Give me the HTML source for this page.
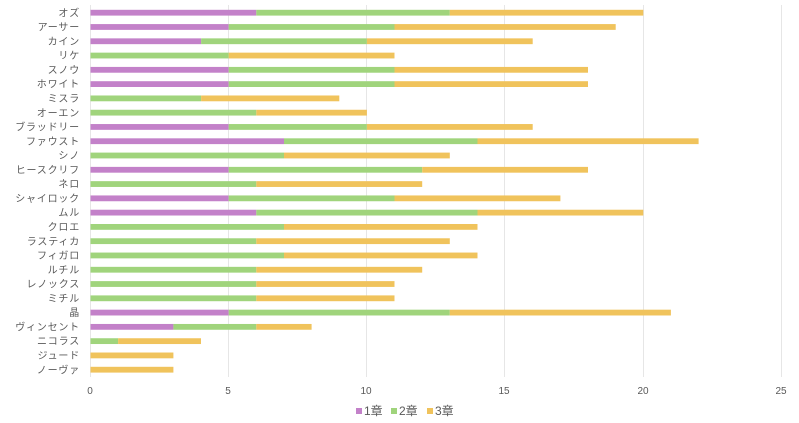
<!DOCTYPE html>
<html><head><meta charset="utf-8"><style>
html,body{margin:0;padding:0;background:#fff;}
svg{display:block;font-family:"Liberation Sans","Noto Sans CJK JP",sans-serif;}
.p{fill:#c381c9}.g{fill:#a0d47c}.y{fill:#f0c35c}
.l{font-size:10px;fill:#595959;text-anchor:end;letter-spacing:0.8px}
</style></head><body>
<svg width="799" height="423" xmlns="http://www.w3.org/2000/svg">
<g stroke="#e6e6e6" stroke-width="1">
<line x1="90.5" y1="5" x2="90.5" y2="377"/>
<line x1="228.5" y1="5" x2="228.5" y2="377"/>
<line x1="366.5" y1="5" x2="366.5" y2="377"/>
<line x1="504.5" y1="5" x2="504.5" y2="377"/>
<line x1="643.5" y1="5" x2="643.5" y2="377"/>
<line x1="781.5" y1="5" x2="781.5" y2="377"/>
</g>
<g font-size="10" fill="#595959" text-anchor="middle">
<text x="90" y="394">0</text><text x="228" y="394">5</text><text x="366" y="394">10</text>
<text x="504" y="394">15</text><text x="643" y="394">20</text><text x="781" y="394">25</text>
</g>
<g transform="translate(0,9.8)"><rect class="p" x="90.5" y="0" width="165.8" height="5.8"/><rect class="g" x="256.3" y="0" width="193.5" height="5.8"/><rect class="y" x="449.8" y="0" width="193.5" height="5.8"/><text class="l" x="80" y="6.5">オズ</text></g>
<g transform="translate(0,24.08)"><rect class="p" x="90.5" y="0" width="138.2" height="5.8"/><rect class="g" x="228.7" y="0" width="165.8" height="5.8"/><rect class="y" x="394.5" y="0" width="221.2" height="5.8"/><text class="l" x="80" y="6.5">アーサー</text></g>
<g transform="translate(0,38.36)"><rect class="p" x="90.5" y="0" width="110.6" height="5.8"/><rect class="g" x="201.1" y="0" width="165.8" height="5.8"/><rect class="y" x="366.9" y="0" width="165.8" height="5.8"/><text class="l" x="80" y="6.5">カイン</text></g>
<g transform="translate(0,52.64)"><rect class="g" x="90.5" y="0" width="138.2" height="5.8"/><rect class="y" x="228.7" y="0" width="165.8" height="5.8"/><text class="l" x="80" y="6.5">リケ</text></g>
<g transform="translate(0,66.92)"><rect class="p" x="90.5" y="0" width="138.2" height="5.8"/><rect class="g" x="228.7" y="0" width="165.8" height="5.8"/><rect class="y" x="394.5" y="0" width="193.5" height="5.8"/><text class="l" x="80" y="6.5">スノウ</text></g>
<g transform="translate(0,81.2)"><rect class="p" x="90.5" y="0" width="138.2" height="5.8"/><rect class="g" x="228.7" y="0" width="165.8" height="5.8"/><rect class="y" x="394.5" y="0" width="193.5" height="5.8"/><text class="l" x="80" y="6.5">ホワイト</text></g>
<g transform="translate(0,95.48)"><rect class="g" x="90.5" y="0" width="110.6" height="5.8"/><rect class="y" x="201.1" y="0" width="138.2" height="5.8"/><text class="l" x="80" y="6.5">ミスラ</text></g>
<g transform="translate(0,109.76)"><rect class="g" x="90.5" y="0" width="165.8" height="5.8"/><rect class="y" x="256.3" y="0" width="110.6" height="5.8"/><text class="l" x="80" y="6.5">オーエン</text></g>
<g transform="translate(0,124.04)"><rect class="p" x="90.5" y="0" width="138.2" height="5.8"/><rect class="g" x="228.7" y="0" width="138.2" height="5.8"/><rect class="y" x="366.9" y="0" width="165.8" height="5.8"/><text class="l" x="80" y="6.5">ブラッドリー</text></g>
<g transform="translate(0,138.32)"><rect class="p" x="90.5" y="0" width="193.5" height="5.8"/><rect class="g" x="284" y="0" width="193.5" height="5.8"/><rect class="y" x="477.5" y="0" width="221.1" height="5.8"/><text class="l" x="80" y="6.5">ファウスト</text></g>
<g transform="translate(0,152.6)"><rect class="g" x="90.5" y="0" width="193.5" height="5.8"/><rect class="y" x="284" y="0" width="165.8" height="5.8"/><text class="l" x="80" y="6.5">シノ</text></g>
<g transform="translate(0,166.88)"><rect class="p" x="90.5" y="0" width="138.2" height="5.8"/><rect class="g" x="228.7" y="0" width="193.5" height="5.8"/><rect class="y" x="422.2" y="0" width="165.8" height="5.8"/><text class="l" x="80" y="6.5">ヒースクリフ</text></g>
<g transform="translate(0,181.16)"><rect class="g" x="90.5" y="0" width="165.8" height="5.8"/><rect class="y" x="256.3" y="0" width="165.9" height="5.8"/><text class="l" x="80" y="6.5">ネロ</text></g>
<g transform="translate(0,195.44)"><rect class="p" x="90.5" y="0" width="138.2" height="5.8"/><rect class="g" x="228.7" y="0" width="165.8" height="5.8"/><rect class="y" x="394.5" y="0" width="165.9" height="5.8"/><text class="l" x="80" y="6.5">シャイロック</text></g>
<g transform="translate(0,209.72)"><rect class="p" x="90.5" y="0" width="165.8" height="5.8"/><rect class="g" x="256.3" y="0" width="221.2" height="5.8"/><rect class="y" x="477.5" y="0" width="165.8" height="5.8"/><text class="l" x="80" y="6.5">ムル</text></g>
<g transform="translate(0,224)"><rect class="g" x="90.5" y="0" width="193.5" height="5.8"/><rect class="y" x="284" y="0" width="193.5" height="5.8"/><text class="l" x="80" y="6.5">クロエ</text></g>
<g transform="translate(0,238.28)"><rect class="g" x="90.5" y="0" width="165.8" height="5.8"/><rect class="y" x="256.3" y="0" width="193.5" height="5.8"/><text class="l" x="80" y="6.5">ラスティカ</text></g>
<g transform="translate(0,252.56)"><rect class="g" x="90.5" y="0" width="193.5" height="5.8"/><rect class="y" x="284" y="0" width="193.5" height="5.8"/><text class="l" x="80" y="6.5">フィガロ</text></g>
<g transform="translate(0,266.84)"><rect class="g" x="90.5" y="0" width="165.8" height="5.8"/><rect class="y" x="256.3" y="0" width="165.9" height="5.8"/><text class="l" x="80" y="6.5">ルチル</text></g>
<g transform="translate(0,281.12)"><rect class="g" x="90.5" y="0" width="165.8" height="5.8"/><rect class="y" x="256.3" y="0" width="138.2" height="5.8"/><text class="l" x="80" y="6.5">レノックス</text></g>
<g transform="translate(0,295.4)"><rect class="g" x="90.5" y="0" width="165.8" height="5.8"/><rect class="y" x="256.3" y="0" width="138.2" height="5.8"/><text class="l" x="80" y="6.5">ミチル</text></g>
<g transform="translate(0,309.68)"><rect class="p" x="90.5" y="0" width="138.2" height="5.8"/><rect class="g" x="228.7" y="0" width="221.1" height="5.8"/><rect class="y" x="449.8" y="0" width="221.1" height="5.8"/><text class="l" x="80" y="6.5">晶</text></g>
<g transform="translate(0,323.96)"><rect class="p" x="90.5" y="0" width="82.9" height="5.8"/><rect class="g" x="173.4" y="0" width="82.9" height="5.8"/><rect class="y" x="256.3" y="0" width="55.3" height="5.8"/><text class="l" x="80" y="6.5">ヴィンセント</text></g>
<g transform="translate(0,338.24)"><rect class="g" x="90.5" y="0" width="27.6" height="5.8"/><rect class="y" x="118.1" y="0" width="82.9" height="5.8"/><text class="l" x="80" y="6.5">ニコラス</text></g>
<g transform="translate(0,352.52)"><rect class="y" x="90.5" y="0" width="82.9" height="5.8"/><text class="l" x="80" y="6.5">ジュード</text></g>
<g transform="translate(0,366.8)"><rect class="y" x="90.5" y="0" width="82.9" height="5.8"/><text class="l" x="80" y="6.5">ノーヴァ</text></g>
<g font-size="12" fill="#595959">
<rect x="356" y="408" width="6" height="6" class="p"/><text x="364" y="415">1章</text>
<rect x="391" y="408" width="6" height="6" class="g"/><text x="399" y="415">2章</text>
<rect x="427" y="408" width="6" height="6" class="y"/><text x="435" y="415">3章</text>
</g>
</svg>
</body></html>
